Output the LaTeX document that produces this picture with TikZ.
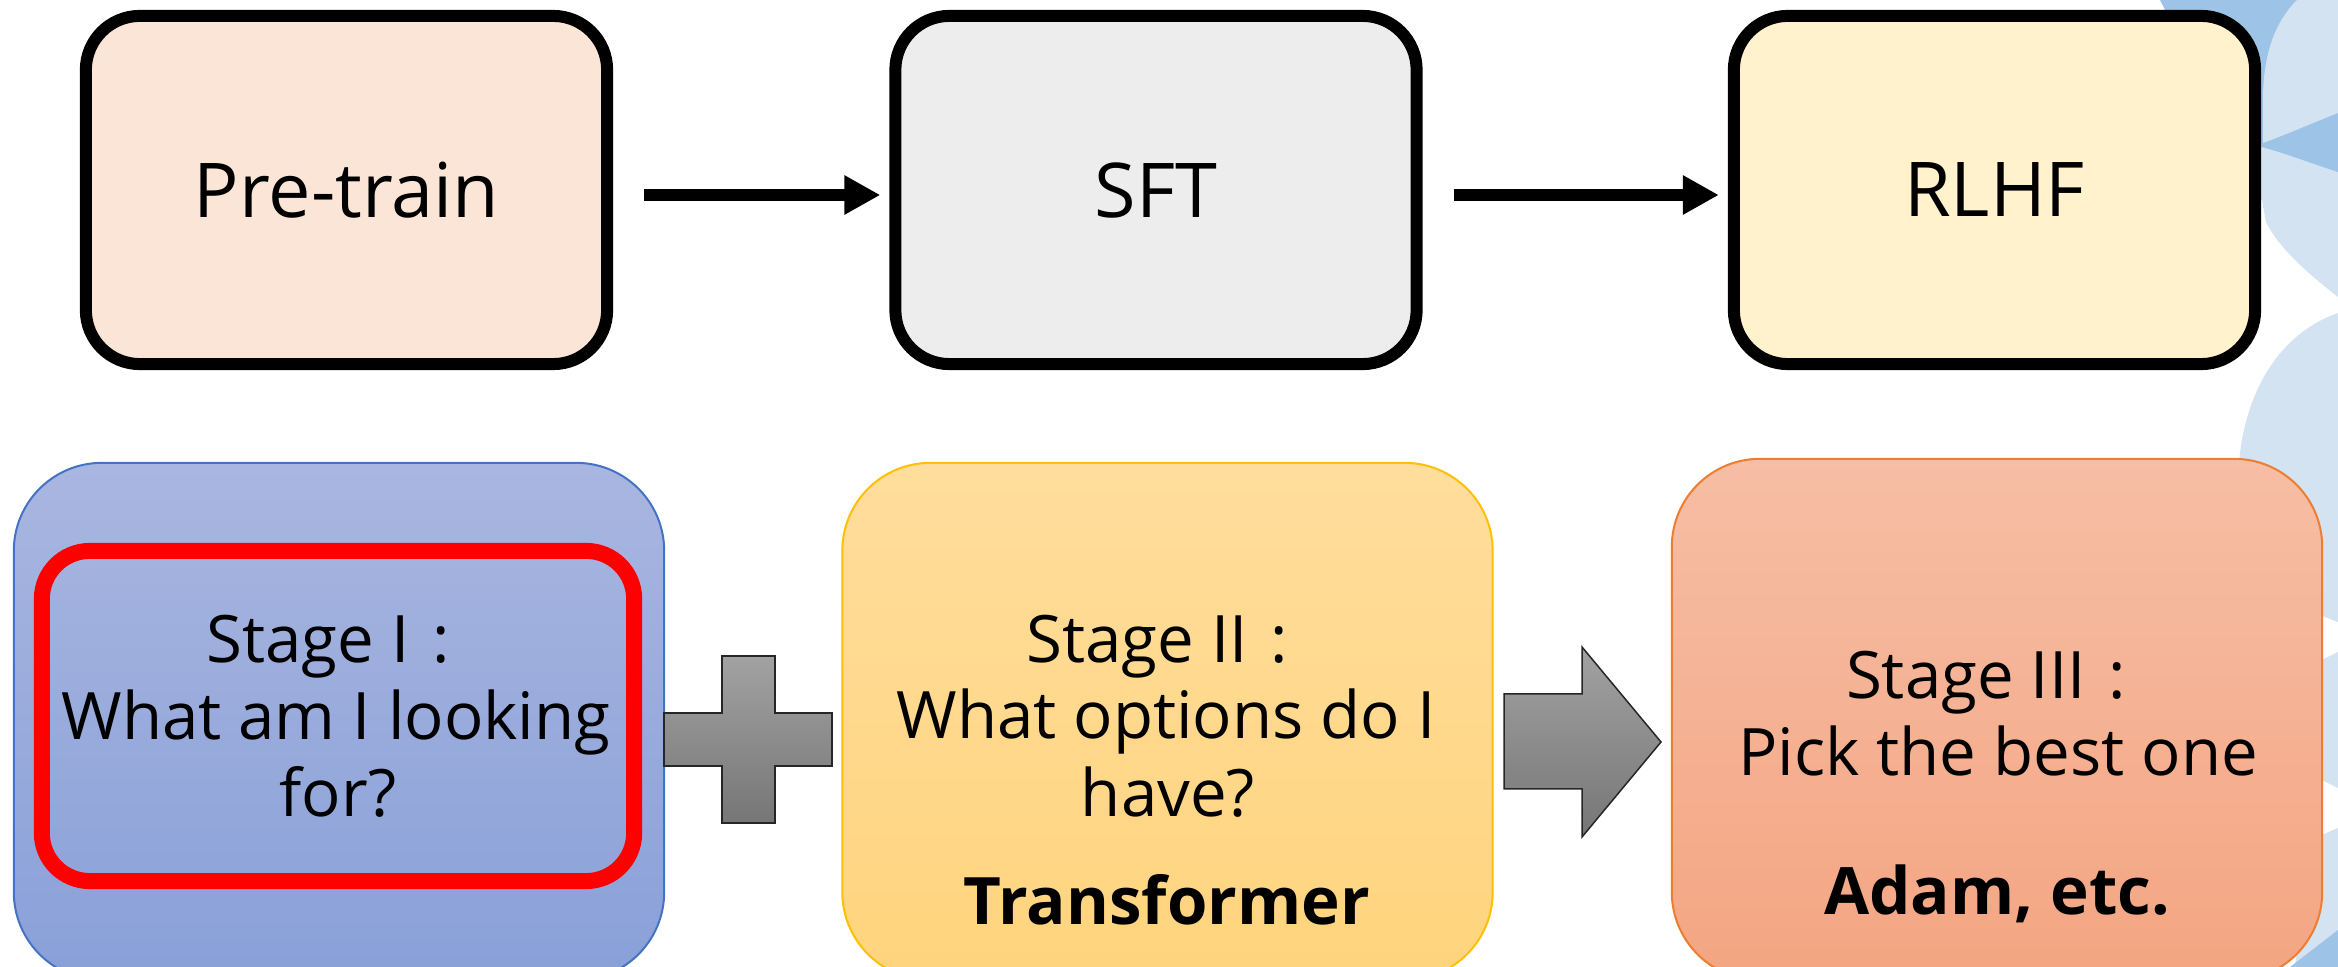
\documentclass[tikz,border=0pt]{standalone}
\usepackage{fontspec}
\setmainfont{Open Sans}
\usetikzlibrary{arrows.meta,shadings}

% palette
\definecolor{preFill}{HTML}{FBE5D6}
\definecolor{sftFill}{HTML}{EDEDED}
\definecolor{rlhfFill}{HTML}{FFF2CC}
\definecolor{blueTop}{HTML}{A9B6E0}
\definecolor{blueBot}{HTML}{89A0D8}
\definecolor{blueEdge}{HTML}{4472C4}
\definecolor{yelTop}{HTML}{FFDD9C}
\definecolor{yelBot}{HTML}{FFD47D}
\definecolor{yelEdge}{HTML}{FFC000}
\definecolor{orTop}{HTML}{F6BEA5}
\definecolor{orBot}{HTML}{F4A582}
\definecolor{orEdge}{HTML}{ED7D31}
\definecolor{grayTop}{HTML}{A2A2A2}
\definecolor{grayBot}{HTML}{767676}
\definecolor{decoLight}{HTML}{D3E3F1}
\definecolor{decoDark}{HTML}{9DC3E6}

\newcommand{\stagefont}{\fontsize{18.6pt}{22pt}\selectfont}
\newcommand{\boldfont}{\fontsize{18.6pt}{22pt}\selectfont\bfseries}

\tikzset{
  phasebox/.style={draw=black, line width=0.12cm, rounded corners=0.54cm,
    minimum width=5.21cm, minimum height=3.48cm, inner sep=0pt,
    font=\fontsize{21.5pt}{24pt}\selectfont},
  flowarrow/.style={line width=0.12cm,
    -{Triangle[length=0.36cm,width=0.37cm]}},
  stagebox/.style={line width=0.02cm, rounded corners=0.88cm,
    minimum width=6.5cm, inner sep=0pt},
  focusbox/.style={draw=red, line width=0.16cm, rounded corners=0.48cm,
    minimum width=5.92cm, minimum height=3.30cm, inner sep=0pt},
  line/.style={anchor=base, inner sep=0pt, font=\stagefont},
  boldline/.style={anchor=base, inner sep=0pt, font=\boldfont},
  graysymbol/.style={top color=grayTop, bottom color=grayBot,
    draw=black!85, line width=0.015cm},
}

\begin{document}
\begin{tikzpicture}[x=0.01cm, y=-0.01cm]
\useasboundingbox (0,0) rectangle (2338,967);

% decorative circles along the right edge
\fill[decoLight] (2240,140) -- (2338,140) -- (2338,297)
  .. controls (2310,275) and (2280,250) .. (2266,222) -- (2262,200)
  -- (2240,200) -- cycle;
\fill[decoDark] (2160,0) -- (2338,0) -- (2338,172)
  .. controls (2310,163) and (2285,153) .. (2258,146) -- (2210,100) -- cycle;
\fill[decoLight] (2297,0) .. controls (2272,25) and (2263,60) .. (2263,100)
  -- (2263,143) .. controls (2290,133) and (2315,122) .. (2338,113)
  -- (2338,0) -- cycle;
\fill[decoLight] (2338,313) .. controls (2275,335) and (2240,400) .. (2238,480)
  .. controls (2237,540) and (2250,590) .. (2338,622) -- cycle;
\fill[decoLight] (2338,652) -- (2305,668) -- (2305,772) -- (2338,788) -- cycle;
\fill[decoLight] (2338,828) -- (2305,842) -- (2295,967) -- (2338,967) -- cycle;
\fill[decoDark] (2290,967) -- (2338,930) -- (2338,967) -- cycle;

% training pipeline
\node[phasebox, fill=preFill]  (pre)  at (346.5,190) {Pre-train};
\node[phasebox, fill=sftFill]  (sft)  at (1156,190)  {SFT};
\node[phasebox, fill=rlhfFill] (rlhf) at (1994.5,190) {RLHF};

\draw[flowarrow, shorten <=0.31cm, shorten >=0.09cm]
  ([yshift=-0.05cm]pre.east) -- ([yshift=-0.05cm]sft.west);
\draw[flowarrow, shorten <=0.31cm, shorten >=0.09cm]
  ([yshift=-0.05cm]sft.east) -- ([yshift=-0.05cm]rlhf.west);

% three stages
\node[stagebox, draw=blueEdge, top color=blueTop, bottom color=blueBot,
  minimum height=5.17cm] (st1) at (339,721.5) {};
\node[stagebox, draw=yelEdge, top color=yelTop, bottom color=yelBot,
  minimum height=5.17cm] (st2) at (1167.5,721.5) {};
\node[stagebox, draw=orEdge, top color=orTop, bottom color=orBot,
  minimum height=5.21cm] (st3) at (1997,719.5) {};

\node[focusbox] (focus) at (338,716) {};

\node[line] (s1a) at (328,663) {Stage I\hspace{0.35em}:};
\node[line] (s1b) at (336,740) {What am I looking};
\node[line] (s1c) at (338,817) {for?};

\node[line] (s2a) at (1157,663) {Stage II\hspace{0.35em}:};
\node[line] (s2b) at (1166,739) {What options do I};
\node[line] (s2c) at (1168,817) {have?};
\node[boldline] (s2d) at (1167,925) {Transformer};

\node[line] (s3a) at (1986,699) {Stage III\hspace{0.35em}:};
\node[line] (s3b) at (1998,776) {Pick the best one};
\node[boldline] (s3d) at (1997,914) {Adam, etc.};

% plus sign between stage I and stage II
\draw[graysymbol] (722,656) -- (775,656) -- (775,713) -- (832,713)
  -- (832,766) -- (775,766) -- (775,823) -- (722,823) -- (722,766)
  -- (664,766) -- (664,713) -- (722,713) -- cycle;

% block arrow between stage II and stage III
\draw[graysymbol] (1504,694) -- (1582,694) -- (1582,647) -- (1661,742)
  -- (1582,837) -- (1582,789) -- (1504,789) -- cycle;
\end{tikzpicture}
\end{document}
